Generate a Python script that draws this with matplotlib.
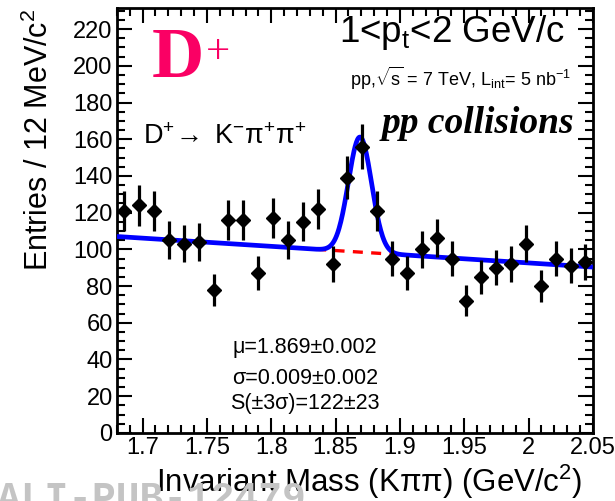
import numpy as np
import matplotlib.pyplot as plt
from matplotlib.ticker import MultipleLocator, FormatStrFormatter

# Invariant mass histogram, 32 bins between 1.68 and 2.05 GeV/c^2
mass_lo, mass_hi, n_bins = 1.68, 2.05, 32
counts = [121, 124, 121, 105, 103, 104, 78, 116, 116, 87, 117, 105, 115, 122, 92,
          139, 156, 121, 95, 87, 100, 106, 95, 72, 85, 90, 92, 103, 80, 95, 91, 93]

# Fit results: gaussian signal + linear background
mu, mu_err = 1.869, 0.002
sigma, sigma_err = 0.009, 0.002
signal, signal_err = 122, 23
bkg_at_lo = 107.0      # background level at 1.68
bkg_slope = -45.0      # entries per GeV/c^2

edges = np.linspace(mass_lo, mass_hi, n_bins + 1)
centers = 0.5 * (edges[1:] + edges[:-1])
bin_w = edges[1] - edges[0]
counts = np.array(counts, dtype=float)
errors = np.sqrt(counts)


def background(m):
    return bkg_at_lo + bkg_slope * (m - mass_lo)


def total(m):
    # amplitude chosen so that the +-3 sigma integral gives `signal` entries
    amp = signal * bin_w / (np.sqrt(2 * np.pi) * sigma * 0.9973)
    return background(m) + amp * np.exp(-0.5 * ((m - mu) / sigma) ** 2)


plt.rcParams["mathtext.fontset"] = "custom"
plt.rcParams["mathtext.rm"] = "Liberation Sans"
plt.rcParams["mathtext.it"] = "Liberation Sans:italic"
font = "Liberation Sans"

fig = plt.figure(figsize=(6.15, 5.01), dpi=100)
ax = fig.add_axes([0.190, 0.136, 0.774, 0.848])

ax.errorbar(centers, counts, yerr=errors, fmt="D", color="black", ms=7,
            elinewidth=2.3, capsize=0, zorder=4)

m = np.linspace(mass_lo, mass_hi, 800)
ax.plot(m, total(m), color="#0000ff", lw=3.4, zorder=3, solid_capstyle="butt")
mb = np.linspace(1.835, 1.905, 50)
ax.plot(mb, background(mb), color="#ff0000", lw=2.4, ls=(0, (3, 2.5)), zorder=2)

ax.set_xlim(mass_lo, mass_hi)
ax.set_ylim(0, 231.5)
ax.xaxis.set_major_locator(MultipleLocator(0.05))
ax.xaxis.set_minor_locator(MultipleLocator(0.01))
ax.xaxis.set_major_formatter(FormatStrFormatter("%g"))
ax.yaxis.set_major_locator(MultipleLocator(20))
ax.yaxis.set_minor_locator(MultipleLocator(5))
ax.tick_params(which="both", direction="in", top=True, right=True, width=1.5,
               labelsize=17, pad=3)
ax.tick_params(which="major", length=11)
ax.tick_params(which="minor", length=6)
for s in ax.spines.values():
    s.set_linewidth(2)
for lab in ax.get_xticklabels() + ax.get_yticklabels():
    lab.set_fontfamily(font)

ax.set_xlabel("Invariant Mass (Kππ) (GeV/c$^2$)", fontsize=22.5, fontfamily=font)
ax.xaxis.set_label_coords(0.53, -0.07)
ax.set_ylabel(r"Entries / 12 MeV/c$^2$", fontsize=22, fontfamily=font)
ax.yaxis.set_label_coords(-0.13, 0.69)

ax.text(0.074, 0.955, "D", transform=ax.transAxes, fontsize=52,
        fontfamily="Liberation Serif", fontweight="bold", color="#fa0064",
        va="top", ha="left")
ax.text(0.188, 0.94, "+", transform=ax.transAxes, fontsize=31,
        fontfamily="Liberation Serif", color="#fa0064", va="top", ha="left")
ax.text(0.941, 0.988, r"1<p$_{\rm t}$<2 GeV/c", transform=ax.transAxes,
        fontsize=26.5, fontfamily=font, va="top", ha="right")
ax.text(0.955, 0.865, r"pp,$\sqrt{\rm s}$ = 7 TeV, L$_{\rm int}$= 5 nb$^{-1}$",
        transform=ax.transAxes, fontsize=13, fontfamily=font, va="top", ha="right")
ax.text(0.055, 0.696, r"D$^{+}\!\rightarrow$ K$^{-}$π$^{+}$π$^{+}$",
        transform=ax.transAxes, fontsize=19.5, fontfamily=font, va="center")
ax.text(0.962, 0.727, "pp collisions", transform=ax.transAxes, fontsize=27,
        fontfamily="Liberation Serif", fontweight="bold", style="italic",
        va="center", ha="right")

stats = ["μ=%.3f±%.3f" % (mu, mu_err),
         "σ=%.3f±%.3f" % (sigma, sigma_err),
         "S(±3σ)=%d±%d" % (signal, signal_err)]
for y, s in zip([0.2, 0.129, 0.07], stats):
    ax.text(0.395, y, s, transform=ax.transAxes, fontsize=15.5, fontfamily=font,
            va="center", ha="center")

fig.text(-0.005, -0.018, "ALI-PUB-12479", fontsize=28.5, fontfamily="Liberation Mono",
         fontweight="bold", color="#c4c4c4", va="baseline", ha="left", zorder=0)

fig.savefig("out.png", dpi=100)
